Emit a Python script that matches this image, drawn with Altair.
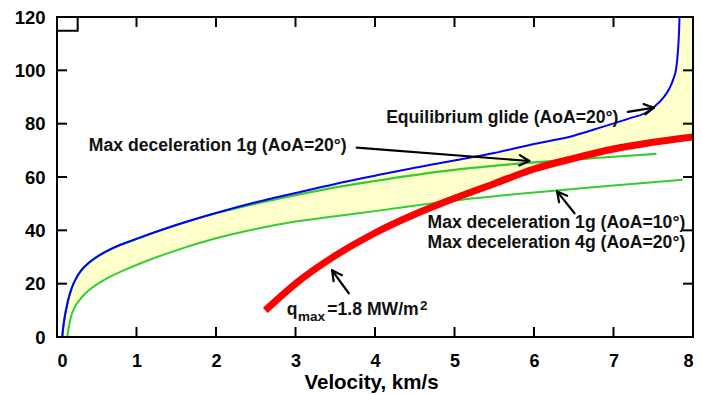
import altair as alt
import pandas as pd
import numpy as np

# ---------------- data ----------------
# Equilibrium glide (AoA=20°) - blue
eq_v = [0.066, 0.08, 0.1, 0.13, 0.16, 0.2, 0.25, 0.3, 0.4, 0.5, 0.7, 1.0, 1.5, 2.0, 2.5, 3.0,
        3.5, 4.0, 4.5, 5.0, 5.5, 6.0, 6.5, 6.84, 7.2, 7.4, 7.52, 7.62, 7.7, 7.75, 7.79, 7.81,
        7.825, 7.83]
eq_h = [0, 4, 8, 12.5, 16, 19.5, 22.5, 24.8, 27.8, 30, 33.3, 36.8, 42, 46.5, 50.5, 54,
        57.4, 60.5, 63.5, 66.2, 69, 72.4, 75.5, 78.6, 82, 84, 86.5, 89.5, 93, 96.5, 101, 107,
        115, 120]

# Max deceleration 1g (AoA=20°) - upper green
g1_v = [0.066, 0.08, 0.1, 0.13, 0.16, 0.2, 0.25, 0.3, 0.4, 0.5, 0.7, 1.0, 1.5, 2.0, 2.5, 3.0,
        3.52, 4.0, 4.76, 5.0, 6.0, 7.0, 7.54]
g1_h = [0, 4, 8, 12.5, 16, 19.5, 22.5, 24.8, 27.8, 30, 33.3, 36.8, 42, 46.4, 50.0, 53.2,
        56.2, 58.5, 61.8, 62.7, 65.5, 67.6, 68.7]

# Max deceleration 1g (AoA=10°) / 4g (AoA=20°) - lower green
g2_v = [0.13, 0.15, 0.18, 0.22, 0.3, 0.4, 0.6, 1.0, 1.5, 2.0, 2.5, 3.0, 3.5, 4.0, 4.76, 5.0,
        6.0, 7.0, 7.87]
g2_h = [0, 4, 8, 11, 14.5, 17.5, 21.5, 27, 32.5, 37, 40.5, 43.3, 45.3, 47.2, 50.3, 51.2,
        54.2, 56.8, 59]

# q_max = 1.8 MW/m^2 - red
q_v = [2.62, 3.0, 3.5, 4.0, 4.5, 5.0, 5.5, 6.0, 6.5, 7.0, 7.5, 8.0]
q_h = [10, 20, 30.5, 39, 46, 52, 57.5, 63, 67, 70.5, 73, 75]

x_ticks = [0, 1, 2, 3, 4, 5, 6, 7, 8]
y_ticks = [0, 20, 40, 60, 80, 100, 120]

# annotation texts (position in data units, left aligned, alphabetic baseline)
lab_text = ["Equilibrium glide (AoA=20°)", "Max deceleration 1g (AoA=20°)",
            "Max deceleration 1g (AoA=10°)", "Max deceleration 4g (AoA=20°)",
            "q", "max", "=1.8 MW/m", "2"]
lab_x = [4.14, 0.40, 4.66, 4.66, 2.89, 3.03, 3.40, 4.565]
lab_y = [80.4, 69.9, 40.7, 33.3, 8.2, 6.0, 8.2, 10.3]
lab_size = [17.6, 17.6, 17.6, 17.6, 17.6, 13.5, 17.6, 13.5]

# arrows: tail -> head (data units)
arr_x0 = [7.18, 3.77, 6.51, 3.67]
arr_y0 = [84.4, 71.0, 46.4, 16.4]
arr_x1 = [7.51, 5.94, 6.29, 3.46]
arr_y1 = [86.0, 66.0, 54.6, 25.0]

# ---------------- layout ----------------
W, H = 636, 320
XMAX, YMAX = 8, 120
FONT = "Liberation Sans"

xs = alt.Scale(domain=[0, XMAX], nice=False, zero=False)
ys = alt.Scale(domain=[0, YMAX], nice=False, zero=False)

xaxis = alt.Axis(values=x_ticks, domain=False, ticks=False, grid=False,
                 labelFont=FONT, labelFontWeight="bold", labelFontSize=18,
                 labelColor="black", labelPadding=15, format="d",
                 titleFont=FONT, titleFontWeight="bold", titleFontSize=20.5,
                 titleColor="black", titleX=314, titleY=51,
                 titleBaseline="alphabetic", titleAnchor="middle")
yaxis = alt.Axis(values=y_ticks, domain=False, ticks=False, grid=False,
                 labelFont=FONT, labelFontWeight="bold", labelFontSize=18.5,
                 labelColor="black", labelPadding=12, format="d")

def X():
    return alt.X("v:Q", scale=xs, axis=xaxis, title="Velocity, km/s")

def Y():
    return alt.Y("h:Q", scale=ys, axis=yaxis, title=None)

eq = pd.DataFrame({"v": eq_v, "h": eq_h})
g1 = pd.DataFrame({"v": g1_v, "h": g1_h})
g2 = pd.DataFrame({"v": g2_v, "h": g2_h})
qd = pd.DataFrame({"v": q_v, "h": q_h})
fill_top = pd.DataFrame({"v": eq_v + [XMAX], "h": eq_h + [YMAX]})

yellow = alt.Chart(fill_top).mark_area(color="#ffffcc", interpolate="monotone", clip=True).encode(
    x=X(), y=Y())
white1 = alt.Chart(g2).mark_area(color="white", interpolate="monotone", clip=True).encode(
    x=X(), y=Y())
white2 = alt.Chart(qd).mark_area(color="white", interpolate="monotone", clip=True).encode(
    x=X(), y=Y())

line_g2 = alt.Chart(g2).mark_line(color="#33cc33", strokeWidth=2, interpolate="monotone", clip=True).encode(x=X(), y=Y())
line_g1 = alt.Chart(g1).mark_line(color="#33cc33", strokeWidth=2.2, interpolate="monotone", clip=True).encode(x=X(), y=Y())
line_eq = alt.Chart(eq).mark_line(color="#0000ff", strokeWidth=2, interpolate="monotone", clip=True).encode(x=X(), y=Y())
line_q = alt.Chart(qd).mark_line(color="#ff0000", strokeWidth=7, interpolate="monotone", clip=True).encode(x=X(), y=Y())

# arrows: shaft + two barbs
px_x = W / XMAX
px_y = H / YMAX
segs = []
for x0, y0, x1, y1 in zip(arr_x0, arr_y0, arr_x1, arr_y1):
    segs.append((x0, y0, x1, y1))
    dx = (x1 - x0) * px_x
    dy = (y1 - y0) * px_y
    ang = np.arctan2(dy, dx)
    for s in (1, -1):
        a = ang + np.pi + s * np.radians(28)
        L = 11
        bx = x1 + L * np.cos(a) / px_x
        by = y1 + L * np.sin(a) / px_y
        segs.append((x1, y1, bx, by))
arr = pd.DataFrame(segs, columns=["v", "h", "v2", "h2"])
arrows = alt.Chart(arr).mark_rule(color="black", strokeWidth=2.2, strokeCap="round").encode(
    x=X(), y=Y(), x2="v2:Q", y2="h2:Q")

labels = pd.DataFrame({"v": lab_x, "h": lab_y, "t": lab_text, "s": lab_size})
texts = alt.Chart(labels).mark_text(align="left", baseline="alphabetic", font=FONT,
                                    fontWeight="bold", color="#111111").encode(
    x=X(), y=Y(), text="t:N", size=alt.Size("s:Q", scale=None, legend=None))

# inward ticks on all four sides
xt = pd.DataFrame({"v": x_ticks})
yt = pd.DataFrame({"h": y_ticks})
tick_b = alt.Chart(xt).mark_rule(color="black", strokeWidth=2).encode(
    x=X(), y=alt.value(H), y2=alt.value(H - 10))
tick_t = alt.Chart(xt).mark_rule(color="black", strokeWidth=2).encode(
    x=X(), y=alt.value(0), y2=alt.value(10))
tick_l = alt.Chart(yt).mark_rule(color="black", strokeWidth=2).encode(
    y=Y(), x=alt.value(0), x2=alt.value(10))
tick_r = alt.Chart(yt).mark_rule(color="black", strokeWidth=2).encode(
    y=Y(), x=alt.value(W), x2=alt.value(W - 10))

frame = alt.Chart(pd.DataFrame({"a": [0]})).mark_rect(filled=False, stroke="black", strokeWidth=2).encode(
    x=alt.value(0), x2=alt.value(W), y=alt.value(0), y2=alt.value(H))

corner = alt.Chart(pd.DataFrame({"v": [0], "v2": [0.26], "h": [114.8], "h2": [120]})).mark_rect(
    filled=False, stroke="black", strokeWidth=2).encode(x=X(), x2="v2:Q", y=Y(), y2="h2:Q")

chart = alt.layer(
    yellow, white1, white2, line_g2, line_g1, line_eq, line_q,
    arrows, texts, tick_b, tick_t, tick_l, tick_r, corner, frame
).properties(
    width=W, height=H,
    autosize=alt.AutoSizeParams(type="none"),
    padding={"left": 49, "top": 9, "right": 1, "bottom": 56},
    background="white",
).configure_view(stroke=None)

chart.save("out.html", embed_options={"renderer": "svg", "actions": False})
